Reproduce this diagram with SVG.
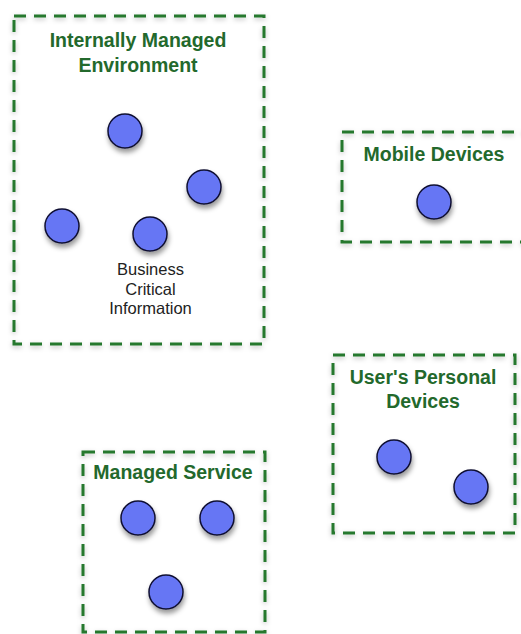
<svg xmlns="http://www.w3.org/2000/svg" width="521" height="634" viewBox="0 0 521 634">
<defs>
<filter id="boxShadow" x="-10%" y="-10%" width="120%" height="120%">
<feDropShadow dx="0" dy="2" stdDeviation="2.5" flood-color="#000" flood-opacity="0.25"/>
</filter>
<filter id="dotShadow" x="-50%" y="-50%" width="200%" height="200%">
<feDropShadow dx="1" dy="4" stdDeviation="2.5" flood-color="#000" flood-opacity="0.4"/>
</filter>
</defs>
<style>
.zone{fill:none;stroke:#27782f;stroke-width:3;stroke-dasharray:12 8;filter:url(#boxShadow)}
.title{font-family:"Liberation Sans",Arial,sans-serif;font-weight:bold;font-size:19.5px;fill:#23692c;text-anchor:middle}
.dot{fill:#6676f4;stroke:#111133;stroke-width:1.5;filter:url(#dotShadow)}
.label{font-family:"Liberation Sans",Arial,sans-serif;font-size:16.5px;fill:#222;text-anchor:middle}
</style>
<rect width="521" height="634" fill="#fff"/>
<g id="internal">
<rect class="zone" x="14" y="16" width="250" height="328"/>
<text class="title" x="138" y="47">Internally Managed</text>
<text class="title" x="138" y="72">Environment</text>
<circle class="dot" cx="125" cy="131" r="17"/>
<circle class="dot" cx="204" cy="187" r="17"/>
<circle class="dot" cx="62" cy="226" r="17"/>
<circle class="dot" cx="150" cy="234" r="17"/>
<text class="label" x="150.5" y="275">Business</text>
<text class="label" x="150.5" y="295">Critical</text>
<text class="label" x="150.5" y="314">Information</text>
</g>
<g id="mobile">
<rect class="zone" x="342" y="132" width="190" height="110"/>
<text class="title" x="434" y="161">Mobile Devices</text>
<circle class="dot" cx="434" cy="202" r="17"/>
</g>
<g id="personal">
<rect class="zone" x="333" y="355" width="182" height="178"/>
<text class="title" x="423" y="384">User's Personal</text>
<text class="title" x="423" y="408">Devices</text>
<circle class="dot" cx="394" cy="457" r="17"/>
<circle class="dot" cx="471" cy="487" r="17"/>
</g>
<g id="managed">
<rect class="zone" x="83" y="452" width="182" height="180"/>
<text class="title" x="173" y="479">Managed Service</text>
<circle class="dot" cx="138" cy="518" r="17"/>
<circle class="dot" cx="217" cy="518" r="17"/>
<circle class="dot" cx="166" cy="592" r="17"/>
</g>
<g id="connectors"></g>
</svg>
